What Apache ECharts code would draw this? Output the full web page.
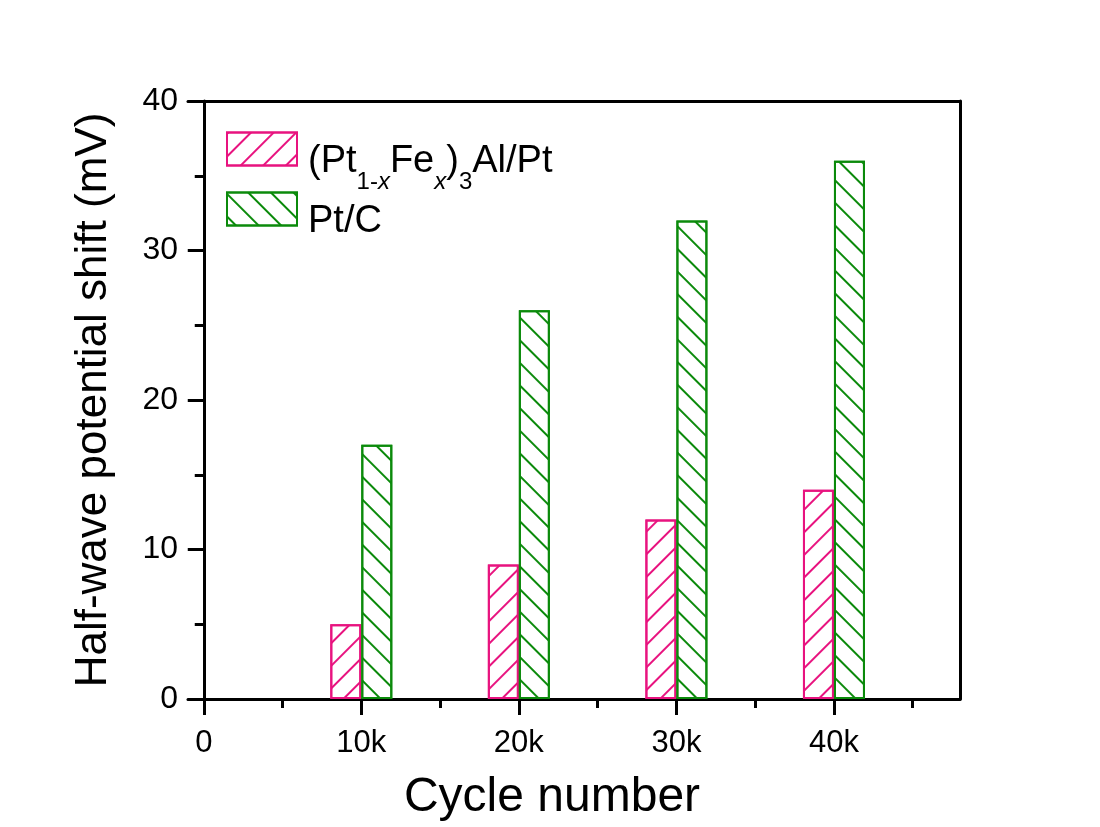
<!DOCTYPE html>
<html>
<head>
<meta charset="utf-8">
<script src="https://cdn.jsdelivr.net/npm/echarts@6/dist/echarts.min.js"></script>
<style>
  html, body { margin: 0; padding: 0; background: #fff; }
  #chart { width: 1100px; height: 827px; }
</style>
</head>
<body>
<div id="chart"></div>
<script>
// Cycle numbers (thousands) and half-wave potential shifts (mV)
const cycles = [10, 20, 30, 40];
const seriesNames = ['(Pt1-xFex)3Al/Pt', 'Pt/C'];
const shiftPtFeAl = [5, 9, 12, 14];
const shiftPtC = [17, 26, 32, 36];

// Tick positions and labels
const xMajorTicks = [0, 10, 20, 30, 40];
const xMinorTicks = [5, 15, 25, 35, 45];
const xTickLabels = ['0', '10k', '20k', '30k', '40k'];

const FONT = '"Liberation Sans", Arial, Helvetica, sans-serif';
const PINK = '#e8137f';
const GREEN = '#0b8a0b';
const BLACK = '#000';

// Single-direction hatch fill
function hatch(color, rotation) {
  return {
    symbol: 'rect',
    symbolSize: 1,
    color: color,
    dashArrayX: [1, 0],
    dashArrayY: [2, 14],
    rotation: rotation
  };
}

const gridRect = { left: 188, right: 140, top: 101, bottom: 128, containLabel: false, outerBoundsMode: 'none' };

const chart = echarts.init(document.getElementById('chart'), null, { renderer: 'canvas' });

const option = {
  backgroundColor: '#fff',
  animation: false,
  textStyle: { fontFamily: FONT, color: BLACK },
  grid: [
    Object.assign({}, gridRect),
    Object.assign({}, gridRect)
  ],
  legend: {
    orient: 'vertical',
    left: 226,
    top: 130,
    padding: 0,
    itemGap: -4,
    itemWidth: 70,
    itemHeight: 33,
    icon: 'rect',
    selectedMode: false,
    data: seriesNames,
    itemStyle: { borderWidth: 2 },
    formatter: function (name) {
      if (name === seriesNames[0]) {
        return '{m0|(Pt}{s|1-}{si|x}{m|Fe}{si|x}{m|)}{s|3}{m|Al/Pt}';
      }
      return '{m0|' + name + '}';
    },
    textStyle: {
      fontFamily: FONT,
      color: BLACK,
      rich: {
        m0: { fontSize: 38, fontFamily: FONT, color: BLACK, lineHeight: 38, padding: [13, 0, 13, 6], verticalAlign: 'top' },
        m: { fontSize: 38, fontFamily: FONT, color: BLACK, lineHeight: 38, padding: [13, 0, 13, 0], verticalAlign: 'top' },
        s: { fontSize: 24, fontFamily: FONT, color: BLACK, lineHeight: 24, padding: [40, 0, 0, 0], verticalAlign: 'top' },
        si: { fontSize: 24, fontFamily: FONT, fontStyle: 'italic', color: BLACK, lineHeight: 24, padding: [40, 0, 0, 0], verticalAlign: 'top' }
      }
    }
  },
  xAxis: [
    {
      type: 'value',
      gridIndex: 0,
      position: 'bottom',
      min: -1,
      max: 48,
      splitLine: { show: false },
      axisLine: { show: true, onZero: false, lineStyle: { color: BLACK, width: 3 } },
      axisTick: { show: true, customValues: xMajorTicks, length: 16, lineStyle: { color: BLACK, width: 3 } },
      axisLabel: {
        show: true,
        customValues: xMajorTicks,
        formatter: function (v) { return xTickLabels[xMajorTicks.indexOf(v)]; },
        fontSize: 31,
        fontFamily: FONT,
        color: BLACK,
        margin: 29
      },
      name: 'Cycle number',
      nameLocation: 'middle',
      nameGap: 75,
      nameTextStyle: { fontSize: 48, fontFamily: FONT, color: BLACK, padding: [0, 44, 0, 0] }
    },
    {
      type: 'value',
      gridIndex: 0,
      position: 'top',
      min: -1,
      max: 48,
      splitLine: { show: false },
      axisLine: { show: true, onZero: false, lineStyle: { color: BLACK, width: 3 } },
      axisTick: { show: false },
      axisLabel: { show: false }
    },
    {
      type: 'value',
      gridIndex: 1,
      position: 'bottom',
      min: -1,
      max: 48,
      splitLine: { show: false },
      axisLine: { show: false, onZero: false },
      axisTick: { show: true, customValues: xMinorTicks, length: 9, lineStyle: { color: BLACK, width: 3 } },
      axisLabel: { show: false }
    }
  ],
  yAxis: [
    {
      type: 'value',
      gridIndex: 0,
      position: 'left',
      min: 0,
      max: 40,
      interval: 10,
      splitLine: { show: false },
      axisLine: { show: true, onZero: true, lineStyle: { color: BLACK, width: 3 } },
      axisTick: { show: true, length: 16, lineStyle: { color: BLACK, width: 3 } },
      minorTick: { show: true, splitNumber: 2, length: 9, lineStyle: { color: BLACK, width: 3 } },
      axisLabel: { fontSize: 32, fontFamily: FONT, color: BLACK, margin: 10 },
      name: 'Half-wave potential shift (mV)',
      nameLocation: 'middle',
      nameGap: 72,
      nameTextStyle: { fontSize: 44, fontFamily: FONT, color: BLACK }
    },
    {
      type: 'value',
      gridIndex: 0,
      position: 'right',
      min: 0,
      max: 40,
      interval: 10,
      splitLine: { show: false },
      axisLine: { show: true, onZero: false, lineStyle: { color: BLACK, width: 3 } },
      axisTick: { show: false },
      axisLabel: { show: false }
    },
    {
      type: 'value',
      gridIndex: 1,
      min: 0,
      max: 40,
      show: false
    }
  ],
  series: [
    {
      name: seriesNames[0],
      type: 'bar',
      xAxisIndex: 0,
      yAxisIndex: 0,
      barWidth: 31,
      barGap: '0%',
      data: cycles.map(function (c, i) { return [c, shiftPtFeAl[i]]; }),
      itemStyle: { color: '#fff', borderColor: PINK, borderWidth: 2, decal: hatch(PINK, -Math.PI / 4) },
      emphasis: { disabled: true }
    },
    {
      name: seriesNames[1],
      type: 'bar',
      xAxisIndex: 0,
      yAxisIndex: 0,
      barWidth: 31,
      barGap: '0%',
      data: cycles.map(function (c, i) { return [c, shiftPtC[i]]; }),
      itemStyle: { color: '#fff', borderColor: GREEN, borderWidth: 2, decal: hatch(GREEN, Math.PI / 4) },
      emphasis: { disabled: true }
    }
  ]
};

chart.setOption(option);
</script>
</body>
</html>
